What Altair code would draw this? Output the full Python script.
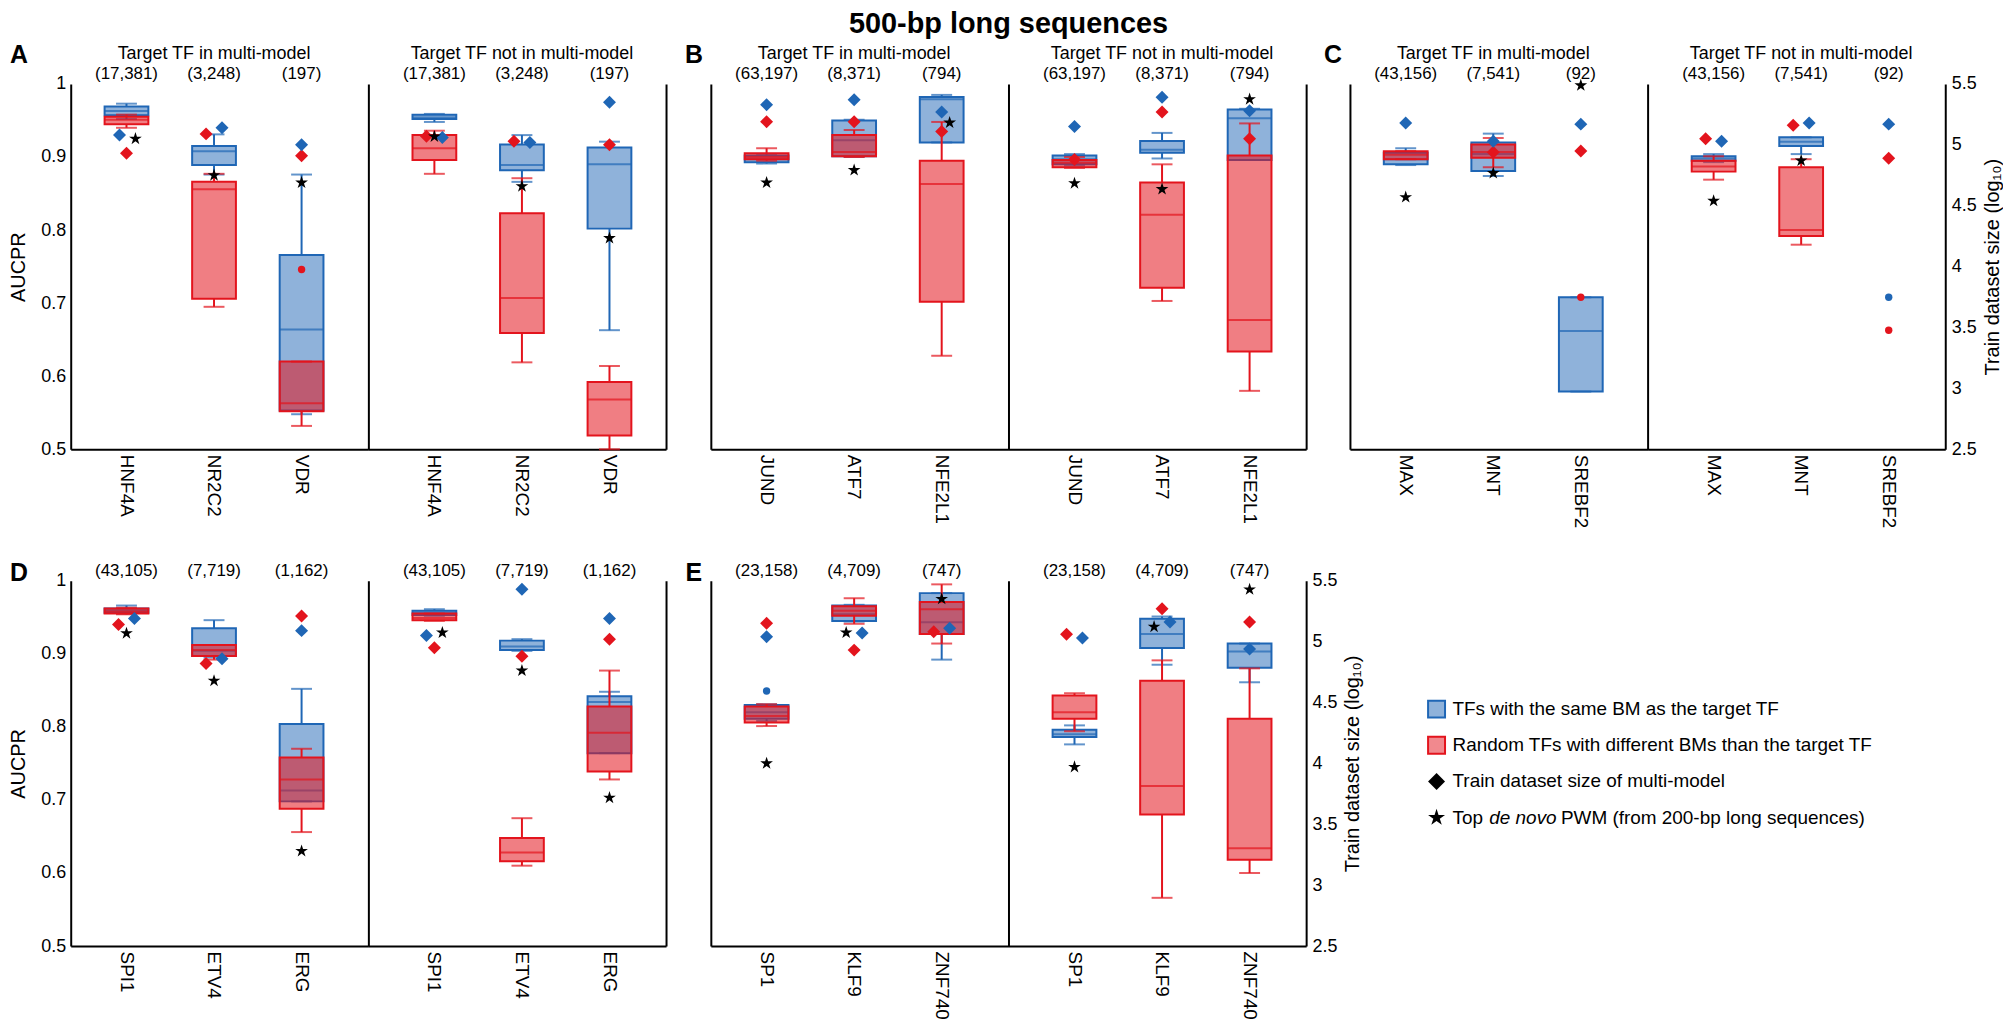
import pandas as pd
import altair as alt

## Values
panel_letters = ["A", "B", "C", "D", "E"]
tf_names = ["HNF4A", "NR2C2", "VDR", "JUND", "ATF7", "NFE2L1", "MAX", "MNT", "SREBF2",
            "SPI1", "ETV4", "ERG", "SP1", "KLF9", "ZNF740"]
train_sizes = ["(17,381)", "(3,248)", "(197)", "(63,197)", "(8,371)", "(794)",
               "(43,156)", "(7,541)", "(92)", "(43,105)", "(7,719)", "(1,162)",
               "(23,158)", "(4,709)", "(747)"]

# box stats (low whisker, q1, median, q3, high whisker), AUCPR
# target TF in multi-model
same_in = [(0.952, 0.957, 0.963, 0.969, 0.973), (0.876, 0.889, 0.908, 0.915, 0.931), (0.548, 0.553, 0.664, 0.766, 0.876),
           (0.891, 0.893, 0.897, 0.902, 0.904), (0.900, 0.901, 0.923, 0.950, 0.951), (0.920, 0.920, 0.979, 0.982, 0.985),
           (0.889, 0.890, 0.897, 0.906, 0.912), (0.874, 0.881, 0.904, 0.920, 0.932), (0.579, 0.579, 0.662, 0.708, 0.708),
           (0.955, 0.956, 0.959, 0.962, 0.966), (0.895, 0.897, 0.904, 0.935, 0.946), (0.698, 0.698, 0.713, 0.804, 0.852),
           (0.808, 0.811, 0.820, 0.830, 0.831), (0.944, 0.945, 0.954, 0.966, 0.967), (0.892, 0.927, 0.943, 0.983, 0.983)]
rand_in = [(0.940, 0.945, 0.951, 0.955, 0.958), (0.695, 0.706, 0.856, 0.866, 0.877), (0.532, 0.552, 0.563, 0.620, 0.620),
           (0.895, 0.897, 0.900, 0.905, 0.912), (0.900, 0.901, 0.907, 0.930, 0.937), (0.628, 0.702, 0.863, 0.895, 0.948),
           (0.897, 0.897, 0.903, 0.908, 0.908), (0.886, 0.899, 0.907, 0.917, 0.926), None,
           (0.954, 0.955, 0.958, 0.962, 0.963), (0.892, 0.897, 0.905, 0.912, 0.912), (0.656, 0.688, 0.728, 0.758, 0.770),
           (0.801, 0.806, 0.815, 0.828, 0.831), (0.941, 0.952, 0.959, 0.965, 0.976), (0.914, 0.927, 0.961, 0.971, 0.995)]
# target TF not in multi-model
same_out = [(0.948, 0.952, 0.954, 0.958, 0.959), (0.866, 0.882, 0.889, 0.917, 0.930), (0.663, 0.802, 0.890, 0.913, 0.921),
            (0.888, 0.890, 0.897, 0.902, 0.904), (0.898, 0.906, 0.910, 0.922, 0.933), (0.896, 0.896, 0.953, 0.965, 0.966),
            (0.893, 0.895, 0.898, 0.901, 0.904), (0.904, 0.915, 0.921, 0.927, 0.927), None,
            (0.952, 0.953, 0.956, 0.959, 0.961), (0.904, 0.905, 0.910, 0.918, 0.920), (0.764, 0.764, 0.834, 0.842, 0.848),
            (0.776, 0.786, 0.790, 0.796, 0.802), (0.885, 0.908, 0.927, 0.948, 0.951), (0.861, 0.881, 0.903, 0.914, 0.914)]
rand_out = [(0.877, 0.896, 0.912, 0.930, 0.936), (0.619, 0.659, 0.707, 0.823, 0.871), (0.500, 0.519, 0.568, 0.592, 0.614),
            (0.885, 0.886, 0.892, 0.896, 0.900), (0.703, 0.721, 0.821, 0.865, 0.890), (0.580, 0.634, 0.677, 0.902, 0.946),
            (0.869, 0.880, 0.887, 0.895, 0.901), (0.780, 0.792, 0.800, 0.886, 0.897), None,
            (0.945, 0.946, 0.949, 0.955, 0.955), (0.610, 0.616, 0.628, 0.648, 0.675), (0.728, 0.739, 0.792, 0.828, 0.877),
            (0.794, 0.811, 0.820, 0.843, 0.846), (0.566, 0.680, 0.719, 0.863, 0.891), (0.600, 0.618, 0.634, 0.811, 0.880)]

# train dataset size of multi-model (log10), right axis
size_same_in = [5.08, 5.14, 5.00, 5.33, 5.37, 5.27, 5.18, 5.03, 5.17, 5.19, 4.86, 5.09, 5.04, 5.07, 5.11]
size_rand_in = [4.93, 5.09, 4.91, 5.19, 5.19, 5.11, None, 4.94, 4.95, 5.14, 4.82, 5.21, 5.15, 4.93, 5.08]
size_same_out = [5.06, 5.02, 5.35, 5.15, 5.39, 5.28, 5.03, 5.18, 5.17, 5.05, 5.43, 5.19, 5.03, 5.16, 4.94]
size_rand_out = [5.07, 5.03, 5.00, 4.88, 5.27, 5.05, 5.05, 5.16, 4.89, 4.95, 4.88, 5.02, 5.06, 5.27, 5.16]

# top de novo PWM AUCPR
star_in = [0.925, 0.875, 0.865, 0.865, 0.882, 0.947, 0.845, 0.878, 0.998, 0.928, 0.863, 0.630, 0.750, 0.929, 0.975]
star_out = [0.928, 0.860, 0.789, 0.864, 0.856, 0.979, 0.840, 0.895, None, 0.929, 0.877, 0.703, 0.745, 0.937, 0.988]

# outliers: (TF, in/out, group, AUCPR)
outliers = [("VDR", "in", "rand", 0.746), ("SREBF2", "in", "rand", 0.708),
            ("SREBF2", "out", "same", 0.708), ("SREBF2", "out", "rand", 0.663),
            ("SP1", "in", "same", 0.849)]

# horizontal nudges (px) of markers that would otherwise overlap
nudges = {
    ("HNF4A", "in"): {"same": -7, "star": 9}, ("NR2C2", "in"): {"rand": -8, "same": 8},
    ("HNF4A", "out"): {"rand": -8, "same": 8}, ("NR2C2", "out"): {"rand": -8, "same": 8},
    ("NFE2L1", "in"): {"star": 8},
    ("MAX", "out"): {"rand": -8, "same": 8}, ("MNT", "out"): {"rand": -8, "same": 8},
    ("SPI1", "in"): {"rand": -8, "same": 8}, ("ETV4", "in"): {"rand": -8, "same": 8},
    ("SPI1", "out"): {"same": -8, "star": 8},
    ("KLF9", "in"): {"star": -8, "same": 8}, ("ZNF740", "in"): {"rand": -8, "same": 8},
    ("SP1", "out"): {"rand": -8, "same": 8}, ("KLF9", "out"): {"star": -8, "same": 8},
}

legend_keys = ["same", "rand", "size", "star"]
legend_labels = ["TFs with the same BM as the target TF",
                 "Random TFs with different BMs than the target TF",
                 "Train dataset size of multi-model",
                 "Top de novo PWM (from 200-bp long sequences)"]

## Style
BLUE = "#1f66b5"
RED = "#e3141d"
FONT = "Liberation Sans"
W, H = 299, 367
STAR = ("M0,-1L0.2245,-0.309L0.951,-0.309L0.363,0.118L0.588,0.809L0,0.382"
        "L-0.588,0.809L-0.363,0.118L-0.951,-0.309L-0.2245,-0.309Z")
YS = alt.Scale(domain=[0.5, 1], nice=False, zero=False)
LOGS = alt.Scale(domain=[2.5, 5.5], nice=False, zero=False)
COLOR = alt.Color("group:N", scale=alt.Scale(domain=["same", "rand"], range=[BLUE, RED]), legend=None)

## Long tables
box_rows, size_rows, star_rows = [], [], []
for sub, same, rand, s_same, s_rand, star in [("in", same_in, rand_in, size_same_in, size_rand_in, star_in),
                                             ("out", same_out, rand_out, size_same_out, size_rand_out, star_out)]:
    for i, tf in enumerate(tf_names):
        p = panel_letters[i // 3]
        nd = nudges.get((tf, sub), {})
        for group, stats in [("same", same[i]), ("rand", rand[i])]:
            if stats is not None:
                lo, q1, med, q3, hi = stats
                box_rows.append(dict(panel=p, sub=sub, tf=tf, group=group, lo=lo, q1=q1, med=med, q3=q3, hi=hi))
        for group, v in [("rand", s_rand[i]), ("same", s_same[i])]:
            if v is not None:
                size_rows.append(dict(panel=p, sub=sub, tf=tf, group=group, size=v, dx=nd.get(group, 0)))
        if star[i] is not None:
            star_rows.append(dict(panel=p, sub=sub, tf=tf, auc=star[i], dx=nd.get("star", 0)))
boxes = pd.DataFrame(box_rows)
sizes = pd.DataFrame(size_rows)
stars = pd.DataFrame(star_rows)
dots = pd.DataFrame(outliers, columns=["tf", "sub", "group", "auc"])
dots["panel"] = [panel_letters[tf_names.index(t) // 3] for t in dots["tf"]]


def box_layers(df, color, opacity, x, yax):
    base = alt.Chart(df)
    y = lambda f: alt.Y(f, scale=YS, axis=yax)
    return [
        base.mark_rule(color=color, strokeWidth=2).encode(x=x, y=y("lo:Q"), y2="q1:Q"),
        base.mark_rule(color=color, strokeWidth=2).encode(x=x, y=y("q3:Q"), y2="hi:Q"),
        base.mark_bar(fill=color, fillOpacity=opacity, stroke=color, strokeWidth=2).encode(x=x, y=y("q1:Q"), y2="q3:Q"),
        base.mark_tick(color=color, thickness=2, size=44).encode(x=x, y=y("med:Q")),
        base.mark_tick(color=color, thickness=2, size=21).encode(x=x, y=y("lo:Q")),
        base.mark_tick(color=color, thickness=2, size=21).encode(x=x, y=y("hi:Q")),
    ]


def subpanel(p, sub):
    i = panel_letters.index(p)
    tfs = tf_names[3 * i:3 * i + 3]
    top_row = p in "ABC"
    x = alt.X("tf:N",
              scale=alt.Scale(domain=tfs, paddingInner=0.5, paddingOuter=0.45, align=0.43 if sub == "in" else 0.56),
              axis=alt.Axis(title=None, labelAngle=90, labelFontSize=19, labelPadding=5))
    if p in "AD" and sub == "in":
        yax = alt.Axis(title="AUCPR", values=[0.5, 0.6, 0.7, 0.8, 0.9, 1.0], format="~g",
                       labelFontSize=18, titleFontSize=20, labelPadding=5, titlePadding=12)
    else:
        yax = alt.Axis(title=None, labels=False)

    b = boxes[(boxes.panel == p) & (boxes["sub"] == sub)]
    layers = box_layers(b[b.group == "same"], BLUE, 0.5, x, yax) + box_layers(b[b.group == "rand"], RED, 0.55, x, yax)

    d = dots[(dots.panel == p) & (dots["sub"] == sub)]
    if len(d):
        layers.append(alt.Chart(d).mark_circle(size=55, opacity=1).encode(
            x=x, y=alt.Y("auc:Q", scale=YS, axis=yax), color=COLOR))

    # counts above each TF
    counts = pd.DataFrame({"tf": tfs, "n": train_sizes[3 * i:3 * i + 3]})
    layers.append(alt.Chart(counts).mark_text(fontSize=17, font=FONT).encode(
        x=x, y=alt.value(-10), text="n:N"))
    if top_row:
        sub_title = "Target TF in multi-model" if sub == "in" else "Target TF not in multi-model"
        layers.append(alt.Chart(pd.DataFrame({"tf": [tfs[1]], "t": [sub_title]})).mark_text(
            fontSize=18, font=FONT).encode(x=x, y=alt.value(-30), text="t:N"))
    if sub == "in":
        layers.append(alt.Chart(pd.DataFrame({"t": [p]})).mark_text(
            fontSize=25, fontWeight="bold", font=FONT).encode(
            x=alt.value(-52 if p in "AD" else -17), y=alt.value(-29 if top_row else -8), text="t:N"))
    if p == "B" and sub == "in":
        layers.append(alt.Chart(pd.DataFrame({"t": ["500-bp long sequences"]})).mark_text(
            fontSize=29, fontWeight="bold", font=FONT).encode(x=alt.value(W), y=alt.value(-60), text="t:N"))
    inner = alt.layer(*layers)

    # diamonds on the train-size scale
    if sub == "out" and p in "CE":
        rax = alt.Axis(orient="right", title="Train dataset size (log\u2081\u2080)",
                       values=[2.5, 3, 3.5, 4, 4.5, 5, 5.5], format="~g", labelFontSize=18,
                       titleFontSize=20, labelPadding=6, titlePadding=6, titleAngle=270, titleBaseline="top")
    elif sub == "out":
        rax = alt.Axis(orient="right", title=None, labels=False)
    else:
        rax = None
    s = sizes[(sizes.panel == p) & (sizes["sub"] == sub)]
    diam = alt.layer(*[
        alt.Chart(s[s.dx == dx]).mark_point(shape="diamond", filled=True, opacity=1, size=170, xOffset=int(dx)).encode(
            x=x, y=alt.Y("size:Q", scale=LOGS, axis=rax), color=COLOR)
        for dx in sorted(s.dx.unique())])

    st = stars[(stars.panel == p) & (stars["sub"] == sub)]
    star_layer = alt.layer(*[
        alt.Chart(st[st.dx == dx]).mark_point(shape=STAR, filled=True, opacity=1, size=180, color="black",
                                              xOffset=int(dx)).encode(
            x=x, y=alt.Y("auc:Q", scale=YS, axis=None))
        for dx in sorted(st.dx.unique())])

    return alt.layer(inner, diam, star_layer).resolve_scale(y="independent").properties(width=W, height=H)


def spacer(w):
    return alt.Chart(pd.DataFrame({"v": [0]})).mark_point(opacity=0).encode(
        x=alt.value(0), y=alt.value(0)).properties(width=w, height=H)


## Legend (drawn by hand as its own cell, under panel C)
leg = pd.DataFrame({"key": legend_keys, "label": legend_labels})
ly = alt.Y("key:N", scale=alt.Scale(domain=legend_keys, range=[129, 238], padding=0), axis=None)
leg_scale = alt.Scale(domain=["same", "rand"], range=[BLUE, RED])
LX = 87
legend = alt.layer(
    alt.Chart(leg.iloc[:2]).mark_square(size=290, fillOpacity=0.5, strokeWidth=2, opacity=1).encode(
        x=alt.value(LX), y=ly, fill=alt.Fill("key:N", scale=leg_scale, legend=None),
        stroke=alt.Stroke("key:N", scale=leg_scale, legend=None)),
    alt.Chart(leg.iloc[2:3]).mark_point(shape="diamond", filled=True, size=290, color="black", opacity=1).encode(
        x=alt.value(LX), y=ly),
    alt.Chart(leg.iloc[3:4]).mark_point(shape=STAR, filled=True, size=320, color="black", opacity=1).encode(
        x=alt.value(LX), y=ly),
    alt.Chart(leg.iloc[:3]).mark_text(align="left", fontSize=19, font=FONT).encode(
        x=alt.value(LX + 16), y=ly, text="label:N"),
    alt.Chart(pd.DataFrame({"key": ["star"], "t": ["Top"]})).mark_text(align="left", fontSize=19, font=FONT).encode(
        x=alt.value(LX + 16), y=ly, text="t:N"),
    alt.Chart(pd.DataFrame({"key": ["star"], "t": ["de novo"]})).mark_text(
        align="left", fontSize=19, font=FONT, fontStyle="italic").encode(x=alt.value(LX + 53), y=ly, text="t:N"),
    alt.Chart(pd.DataFrame({"key": ["star"], "t": ["PWM (from 200-bp long sequences)"]})).mark_text(
        align="left", fontSize=19, font=FONT).encode(x=alt.value(LX + 125), y=ly, text="t:N"),
).properties(width=W, height=H)

cells = [subpanel("A", "in"), subpanel("A", "out"), spacer(45),
         subpanel("B", "in"), subpanel("B", "out"), spacer(44),
         subpanel("C", "in"), subpanel("C", "out"),
         subpanel("D", "in"), subpanel("D", "out"), spacer(45),
         subpanel("E", "in"), subpanel("E", "out"), spacer(44), legend, spacer(W)]

chart = alt.concat(*cells, columns=8, spacing={"row": 132, "column": 0}, bounds="flush").properties(
    padding=0
).configure_view(stroke=None).configure_axis(
    domainColor="black", domainWidth=2, ticks=False, tickSize=0, grid=False,
    labelFont=FONT, titleFont=FONT, labelColor="black", titleColor="black", titleFontWeight="normal"
)

chart.save("out.html", embed_options={"renderer": "svg", "actions": False})
